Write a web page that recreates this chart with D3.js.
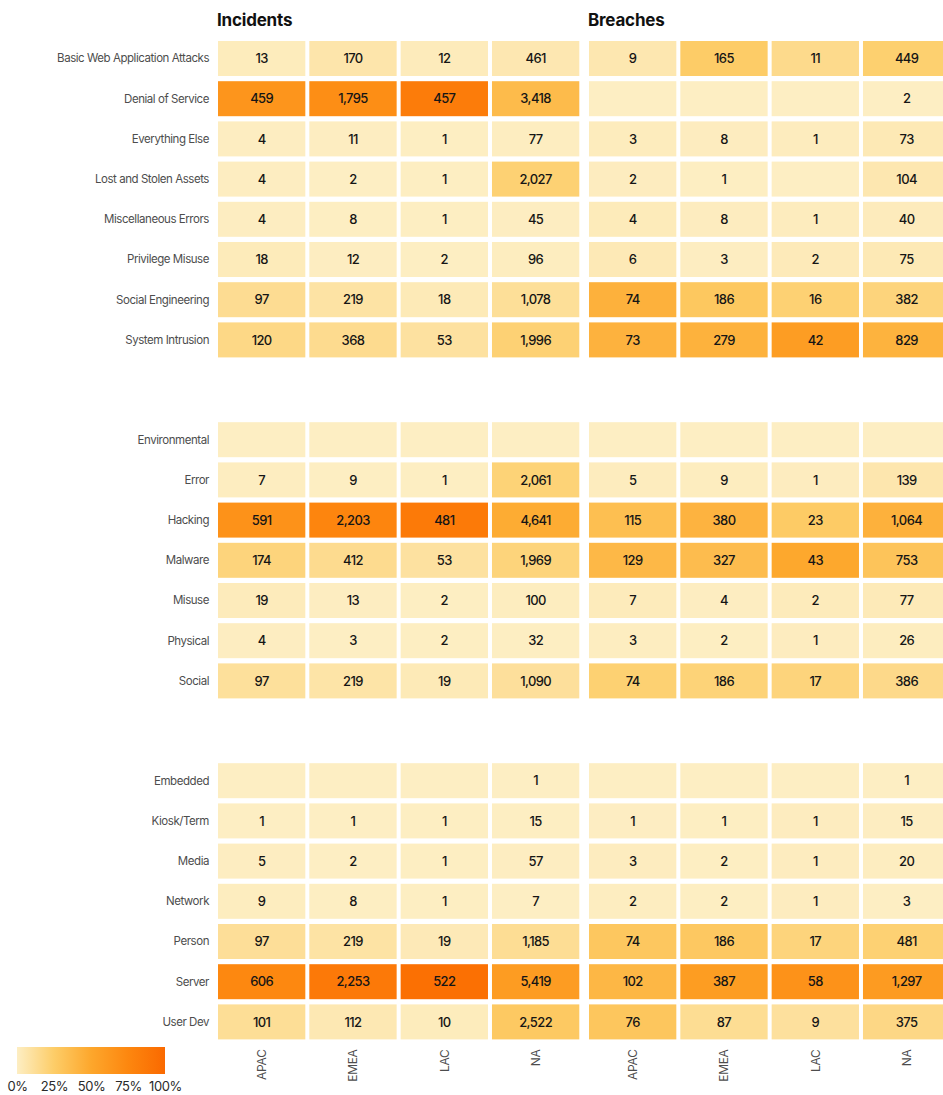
<!DOCTYPE html>
<html>
<head>
<meta charset="utf-8">
<script src="https://cdn.jsdelivr.net/npm/d3@7"></script>
<style>
  html, body { margin: 0; padding: 0; background: #fff; }
  svg { display: block; }
  text { font-family: Inter, "Noto Sans", sans-serif; }
  .rowlab text { fill: #4d4d4d; font-size: 11.5px; letter-spacing: -0.45px; }
  .collab text { fill: #4d4d4d; font-size: 12px; letter-spacing: -0.3px; }
  .cellval { fill: #151515; font-size: 13px; font-weight: 500; letter-spacing: -0.6px; }
  .title { fill: #111; font-size: 17px; font-weight: 700; letter-spacing: -0.2px; }
  .leg text { fill: #2a2a2a; font-size: 13px; letter-spacing: -0.4px; }
</style>
</head>
<body>
<svg id="chart" width="943" height="1095"></svg>
<script>
// Regions (columns) and measures
const regions = ["APAC", "EMEA", "LAC", "NA"];
const measures = ["Incidents", "Breaches"];

// Row categories for each block
const patternRows = ["Basic Web Application Attacks", "Denial of Service", "Everything Else",
  "Lost and Stolen Assets", "Miscellaneous Errors", "Privilege Misuse",
  "Social Engineering", "System Intrusion"];
const actionRows = ["Environmental", "Error", "Hacking", "Malware", "Misuse", "Physical", "Social"];
const assetRows = ["Embedded", "Kiosk/Term", "Media", "Network", "Person", "Server", "User Dev"];

// Counts: one array per region (APAC, EMEA, LAC, NA), in row order; null = no value
const patternIncidents = [
  [13, 459, 4, 4, 4, 18, 97, 120],
  [170, 1795, 11, 2, 8, 12, 219, 368],
  [12, 457, 1, 1, 1, 2, 18, 53],
  [461, 3418, 77, 2027, 45, 96, 1078, 1996]
];
const patternBreaches = [
  [9, null, 3, 2, 4, 6, 74, 73],
  [165, null, 8, 1, 8, 3, 186, 279],
  [11, null, 1, null, 1, 2, 16, 42],
  [449, 2, 73, 104, 40, 75, 382, 829]
];
const actionIncidents = [
  [null, 7, 591, 174, 19, 4, 97],
  [null, 9, 2203, 412, 13, 3, 219],
  [null, 1, 481, 53, 2, 2, 19],
  [null, 2061, 4641, 1969, 100, 32, 1090]
];
const actionBreaches = [
  [null, 5, 115, 129, 7, 3, 74],
  [null, 9, 380, 327, 4, 2, 186],
  [null, 1, 23, 43, 2, 1, 17],
  [null, 139, 1064, 753, 77, 26, 386]
];
const assetIncidents = [
  [null, 1, 5, 9, 97, 606, 101],
  [null, 1, 2, 8, 219, 2253, 112],
  [null, 1, 1, 1, 19, 522, 10],
  [1, 15, 57, 7, 1185, 5419, 2522]
];
const assetBreaches = [
  [null, 1, 3, 2, 74, 102, 76],
  [null, 1, 2, 2, 186, 387, 87],
  [null, 1, 1, 1, 17, 58, 9],
  [1, 15, 20, 3, 481, 1297, 375]
];

// Legend ticks
const legendTicks = [0, 0.25, 0.5, 0.75, 1];

const blocks = [
  { rows: patternRows, Incidents: patternIncidents, Breaches: patternBreaches },
  { rows: actionRows, Incidents: actionIncidents, Breaches: actionBreaches },
  { rows: assetRows, Incidents: assetIncidents, Breaches: assetBreaches }
];

const svg = d3.select("#chart");

// Share of a column's total within its block, mapped onto a cream-to-orange ramp
const color = d3.scaleLinear()
  .domain([0, 0.25, 0.5, 0.75, 1])
  .range(["#fdeec3", "#fdcd68", "#fda72c", "#fd870f", "#fa6900"])
  .clamp(true);

const rowStep = 40.2;
const cellH = 35;
const blockGap = 59.6;
const top0 = 41;

const xScales = {
  Incidents: d3.scaleBand().domain(regions).range([218, 579.3]).paddingInner(4 / 91.3).paddingOuter(0),
  Breaches: d3.scaleBand().domain(regions).range([589, 950.3]).paddingInner(4 / 91.3).paddingOuter(0)
};

// Titles
measures.forEach(m => {
  svg.append("text").attr("class", "title")
    .attr("x", xScales[m].range()[0] - 1).attr("y", 26).text(m);
});

const fmt = d3.format(",");
let blockTop = top0;
let lastBottom = 0;

blocks.forEach(b => {
  const n = b.rows.length;
  const y = d3.scaleBand().domain(b.rows)
    .range([blockTop, blockTop + (n - 1) * rowStep + cellH])
    .paddingInner((rowStep - cellH) / rowStep).paddingOuter(0);

  // Row labels
  svg.append("g").attr("class", "rowlab")
    .attr("transform", "translate(209,0)")
    .call(d3.axisLeft(y).tickSize(0).tickPadding(0))
    .call(g => g.select(".domain").remove())
    .selectAll("text").attr("dy", "0.34em").attr("font-family", null).attr("font-size", null);

  measures.forEach(m => {
    const x = xScales[m];
    const table = b[m];
    const cells = [];
    regions.forEach((r, ri) => {
      const total = d3.sum(table[ri]);
      b.rows.forEach((row, k) => {
        const v = table[ri][k];
        cells.push({ region: r, row, value: v, share: v == null || total === 0 ? 0 : v / total });
      });
    });

    const g = svg.append("g");
    g.selectAll("rect").data(cells).join("rect")
      .attr("x", d => x(d.region))
      .attr("y", d => y(d.row))
      .attr("width", x.bandwidth())
      .attr("height", y.bandwidth())
      .attr("fill", d => color(d.share));

    g.selectAll("text").data(cells.filter(d => d.value != null)).join("text")
      .attr("class", "cellval")
      .attr("x", d => x(d.region) + x.bandwidth() / 2)
      .attr("y", d => y(d.row) + y.bandwidth() / 2)
      .attr("dy", "0.36em")
      .attr("text-anchor", "middle")
      .text(d => fmt(d.value));
  });

  lastBottom = blockTop + (n - 1) * rowStep + cellH;
  blockTop = blockTop + n * rowStep + blockGap;
});

// Region labels under the last block, rotated
measures.forEach(m => {
  svg.append("g").attr("class", "collab")
    .attr("transform", `translate(0,${lastBottom + 10})`)
    .call(d3.axisBottom(xScales[m]).tickSize(0).tickPadding(0))
    .call(g => g.select(".domain").remove())
    .selectAll("text")
    .attr("font-family", null).attr("font-size", null)
    .attr("transform", "rotate(-90)")
    .attr("text-anchor", "end")
    .attr("x", 0).attr("y", 0).attr("dy", "0.35em");
});

// Legend
const legX = d3.scaleLinear().domain([0, 1]).range([17, 165]);
const defs = svg.append("defs");
const grad = defs.append("linearGradient").attr("id", "legGrad");
grad.selectAll("stop").data(legendTicks).join("stop")
  .attr("offset", d => `${d * 100}%`)
  .attr("stop-color", d => color(d));

svg.append("rect")
  .attr("x", legX(0)).attr("y", 1047)
  .attr("width", legX(1) - legX(0)).attr("height", 27)
  .attr("fill", "url(#legGrad)");

svg.append("g").attr("class", "leg")
  .attr("transform", "translate(0,1078)")
  .call(d3.axisBottom(legX).tickValues(legendTicks).tickFormat(d3.format(".0%")).tickSize(0).tickPadding(4))
  .call(g => g.select(".domain").remove())
  .selectAll("text").attr("font-family", null).attr("font-size", null);
</script>
</body>
</html>
